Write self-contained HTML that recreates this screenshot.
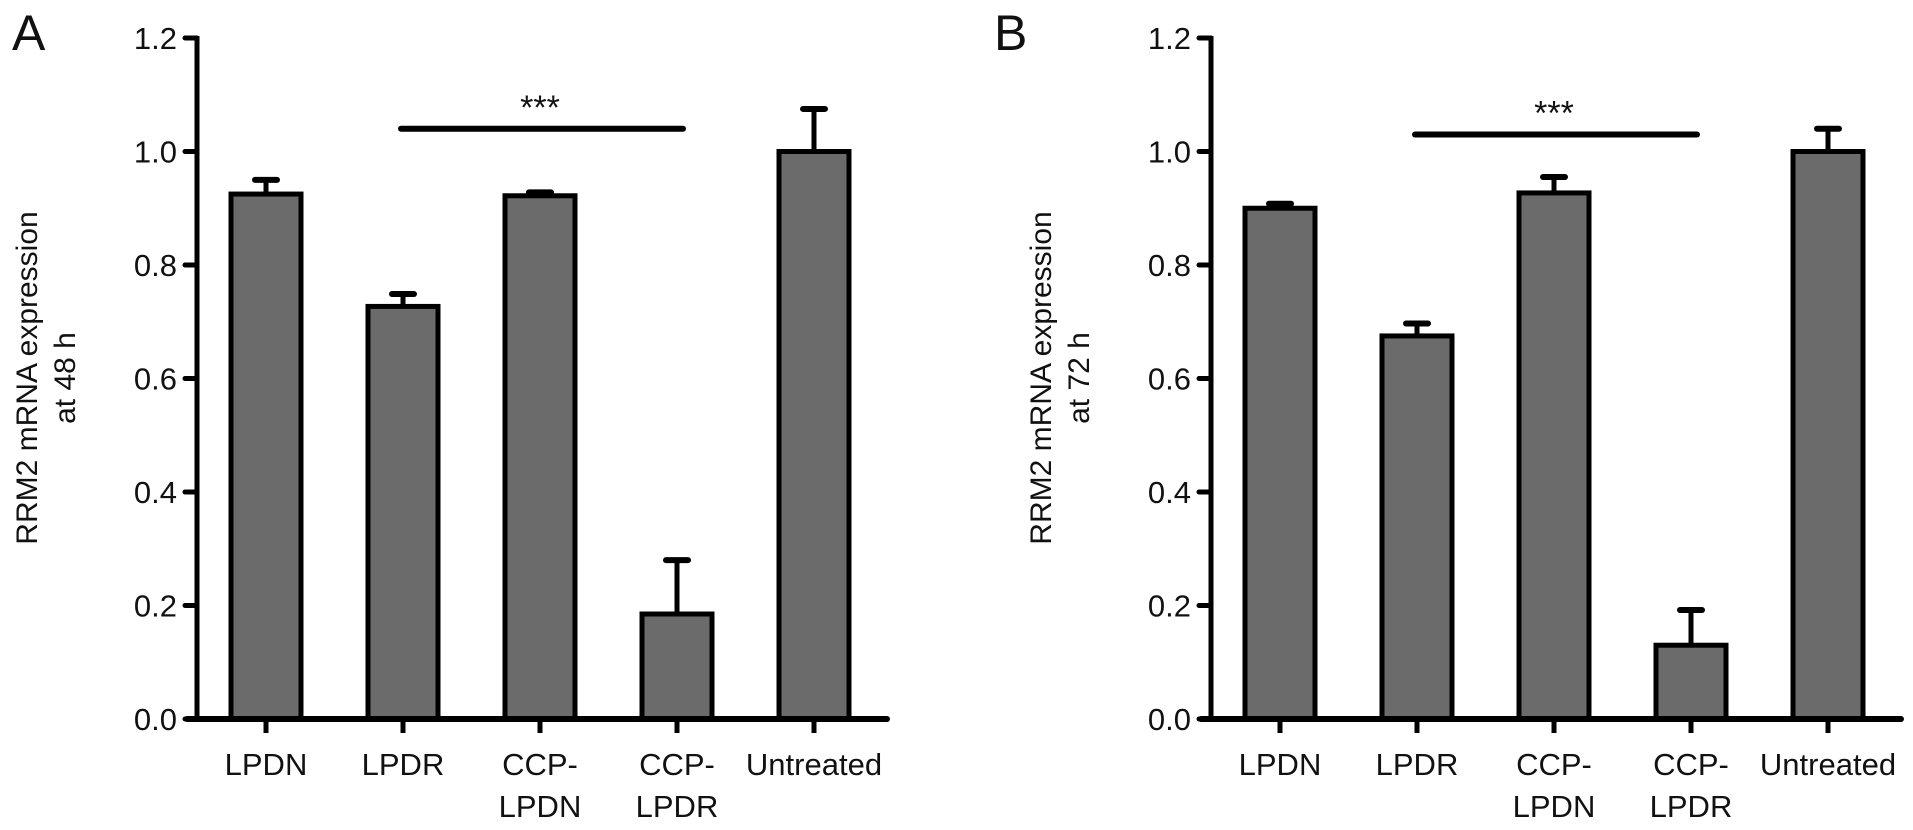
<!DOCTYPE html>
<html><head><meta charset="utf-8"><style>
html,body{margin:0;padding:0;background:#fff;}
svg{display:block;font-family:"Liberation Sans",Arial,sans-serif;}
</style></head><body>
<svg id="chart" width="1913" height="830" viewBox="0 0 1913 830" xmlns="http://www.w3.org/2000/svg"></svg>
<script>
const categories = ["LPDN","LPDR","CCP-\nLPDN","CCP-\nLPDR","Untreated"];
const valuesA = [0.925, 0.727, 0.922, 0.185, 1.0];
const errorsA = [0.025, 0.022, 0.006, 0.095, 0.075];
const valuesB = [0.9, 0.675, 0.927, 0.13, 1.0];
const errorsB = [0.008, 0.022, 0.028, 0.062, 0.04];
const tickLabels = ["0.0","0.2","0.4","0.6","0.8","1.0","1.2"];
const tickValues = [0,0.2,0.4,0.6,0.8,1.0,1.2];
const sigA = {from:1, to:3, y:1.04, label:"***"};
const sigB = {from:1, to:3, y:1.03, label:"***"};

const NS="http://www.w3.org/2000/svg";
const svg=document.getElementById('chart');
function mk(tag,attrs,parent){const e=document.createElementNS(NS,tag);for(const k in attrs)e.setAttribute(k,attrs[k]);(parent||svg).appendChild(e);return e;}

const y0=719, pxPerUnit=567.5;
function yScale(v){return y0-v*pxPerUnit;}

function panel(opt){
  const g=mk('g',{});
  
  
  const ax=opt.axisX;
  function xCenter(i){return ax+69+i*137;}
  // panel letter
  const L=mk('text',{x:opt.letterX,y:50,'font-size':50,fill:'#111'},g);L.textContent=opt.letter;
  
  
  // y title
  const t=mk('text',{transform:`translate(${ax-160},378) rotate(-90)`,'text-anchor':'middle','font-size':30,fill:'#111'},g);
  
  
  const s1=mk('tspan',{x:0,dy:0},t);s1.textContent="RRM2 mRNA expression";
  const s2=mk('tspan',{x:0,dy:38},t);s2.textContent=opt.titleLine2;
  // bars
  opt.values.forEach((v,i)=>{
    const cx=xCenter(i), w=70;
    const top=yScale(v), etop=yScale(v+opt.errors[i]);
    const el=mk('line',{x1:cx,x2:cx,y1:top,y2:etop,stroke:'#000','stroke-width':5},g);
    
    
    const cap=mk('line',{x1:cx-11,x2:cx+11,y1:etop,y2:etop,stroke:'#000','stroke-width':6,'stroke-linecap':'round'},g);
    
    
    const r=mk('rect',{x:cx-w/2,y:top,width:w,height:y0-top,fill:'#6b6b6b',stroke:'#000','stroke-width':5},g);
    
    
    const tk=mk('line',{x1:cx,x2:cx,y1:y0,y2:y0+14,stroke:'#000','stroke-width':5},g);
    
    
    const lines=categories[i].split("\n");
    lines.forEach((ln,j)=>{
      const tx=mk('text',{x:cx,y:775+j*42,'text-anchor':'middle','font-size':31,fill:'#111'},g);
      
      
      tx.textContent=ln;
    });
  });
  // axes
  const ya=mk('line',{x1:ax,x2:ax,y1:yScale(1.2)-2,y2:y0+2,stroke:'#000','stroke-width':5},g);
  
  
  const xa=mk('line',{x1:ax-10,x2:ax+690,y1:y0,y2:y0,stroke:'#000','stroke-width':6,'stroke-linecap':'round'},g);
  
  
  tickValues.forEach((tv,i)=>{
    const y=yScale(tv);
    const tl=mk('line',{x1:ax-12,x2:ax,y1:y,y2:y,stroke:'#000','stroke-width':5,'stroke-linecap':'round'},g);
    
    
    const tt=mk('text',{x:ax-20,y:y+11,'text-anchor':'end','font-size':31,fill:'#111'},g);
    
    
    tt.textContent=tickLabels[i];
  });
  // significance
  const sg=opt.sig, sy=yScale(sg.y);
  const sl=mk('line',{x1:xCenter(sg.from)-2,x2:xCenter(sg.to)+6,y1:sy,y2:sy,stroke:'#000','stroke-width':6,'stroke-linecap':'round'},g);
  
  
  const st=mk('text',{x:(xCenter(sg.from)+xCenter(sg.to))/2,y:sy-10,'text-anchor':'middle','font-size':34,fill:'#111'},g);
  
  
  st.textContent=sg.label;
}
panel({name:'panel-a',letter:'A',letterX:12,axisX:197,titleLine2:'at 48 h',values:valuesA,errors:errorsA,sig:sigA});
panel({name:'panel-b',letter:'B',letterX:994,axisX:1211,titleLine2:'at 72 h',values:valuesB,errors:errorsB,sig:sigB});
</script>
</body></html>
